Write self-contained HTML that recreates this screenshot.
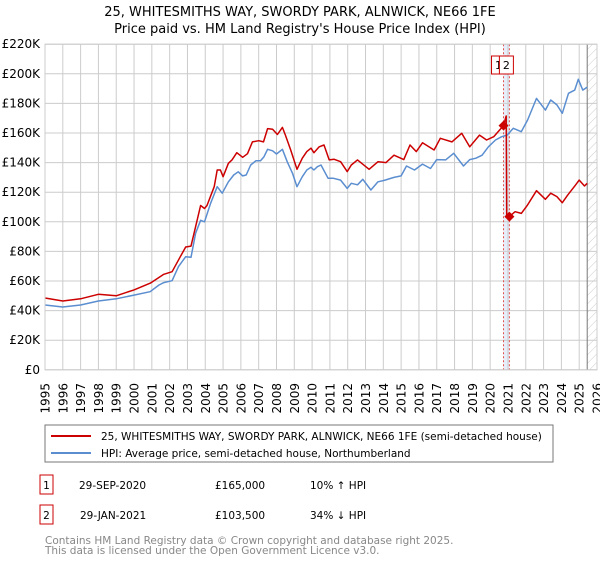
<!DOCTYPE html>
<html><head><meta charset="utf-8"><style>
body{margin:0;background:#fff;font-family:"Liberation Sans","DejaVu Sans",sans-serif;}
svg text{font-family:"DejaVu Sans","Liberation Sans",sans-serif;}
</style></head><body>
<svg id="c" width="600" height="560" xmlns="http://www.w3.org/2000/svg">
<defs><pattern id="hatch" width="6" height="6" patternUnits="userSpaceOnUse" patternTransform="rotate(45)"><line x1="0" y1="0" x2="0" y2="6" stroke="#ccc" stroke-width="1"/></pattern></defs>
<text x="300" y="16" text-anchor="middle" font-size="13">25, WHITESMITHS WAY, SWORDY PARK, ALNWICK, NE66 1FE</text>
<text x="300" y="33" text-anchor="middle" font-size="13">Price paid vs. HM Land Registry's House Price Index (HPI)</text>
<g id="plot"></g>
<rect x="45" y="425" width="508" height="37" fill="#fff" stroke="#777"/>
<line x1="51" y1="436" x2="91" y2="436" stroke="#cc0000" stroke-width="2"/>
<text x="101" y="440" font-size="10.5">25, WHITESMITHS WAY, SWORDY PARK, ALNWICK, NE66 1FE (semi-detached house)</text>
<line x1="51" y1="453" x2="91" y2="453" stroke="#5b8ed0" stroke-width="2"/>
<text x="101" y="457" font-size="10.5">HPI: Average price, semi-detached house, Northumberland</text>
<rect x="40" y="475" width="13" height="19" fill="#fff" stroke="#cc0000"/>
<text x="46.5" y="489" text-anchor="middle" font-size="10.5">1</text>
<text x="79" y="489" font-size="10.5">29-SEP-2020</text>
<text x="215" y="489" font-size="10.5">£165,000</text>
<text x="310" y="489" font-size="10.5">10% ↑ HPI</text>
<rect x="40" y="505" width="13" height="19" fill="#fff" stroke="#cc0000"/>
<text x="46.5" y="519" text-anchor="middle" font-size="10.5">2</text>
<text x="80" y="519" font-size="10.5">29-JAN-2021</text>
<text x="215" y="519" font-size="10.5">£103,500</text>
<text x="310" y="519" font-size="10.5">34% ↓ HPI</text>
<text x="45" y="544" font-size="10.5" fill="#888">Contains HM Land Registry data © Crown copyright and database right 2025.</text>
<text x="45" y="554" font-size="10.5" fill="#888">This data is licensed under the Open Government Licence v3.0.</text>
</svg>
<script>
const yTicks=[0,20,40,60,80,100,120,140,160,180,200,220];
const xYears=[1995,1996,1997,1998,1999,2000,2001,2002,2003,2004,2005,2006,2007,2008,2009,2010,2011,2012,2013,2014,2015,2016,2017,2018,2019,2020,2021,2022,2023,2024,2025,2026];
const hpiYears=[1995,1996,1997,1998,1999,2000,2000.9,2001.4,2001.67,2002.14,2002.5,2002.9,2003.2,2003.46,2003.74,2003.96,2004.3,2004.67,2004.95,2005.3,2005.6,2005.85,2006.1,2006.3,2006.55,2006.85,2007.1,2007.3,2007.5,2007.78,2008.0,2008.33,2008.6,2008.9,2009.15,2009.45,2009.7,2009.94,2010.1,2010.3,2010.5,2010.9,2011.2,2011.6,2011.97,2012.2,2012.55,2012.85,2013.3,2013.7,2014.05,2014.6,2015.0,2015.3,2015.75,2016.2,2016.65,2017.0,2017.5,2017.95,2018.5,2018.85,2019.2,2019.55,2019.9,2020.3,2020.65,2020.95,2021.3,2021.75,2022.1,2022.6,2023.1,2023.4,2023.75,2024.05,2024.4,2024.75,2024.95,2025.2,2025.45];
const hpiValues=[43.8,42.4,43.8,46.5,48,50.5,52.8,57.3,58.9,60.2,69.7,76.4,76,92.2,101,100,112.5,123.7,119.3,127,131.6,133.8,131,131.6,138.4,141.3,141.3,144,149,148,145.8,149,140.6,132.8,123.7,130.5,135,136.8,135,137.2,138.4,129.4,129.4,128.2,122.6,126,125,128.7,121.5,127,128,130,131,137.7,135,139,136,142,141.8,146.3,137.7,142,143,145,150.7,155.3,157.5,158.6,163.2,160.9,168.8,183.4,175.5,182.3,179,173.3,186.8,189,196.3,189,191];
const paidYears=[1995,1996,1997,1998,1999,2000,2000.92,2001.67,2002.14,2002.6,2002.9,2003.2,2003.46,2003.74,2003.96,2004.1,2004.5,2004.67,2004.85,2005.0,2005.3,2005.5,2005.77,2006.1,2006.37,2006.65,2007.0,2007.27,2007.5,2007.78,2008.05,2008.33,2008.5,2008.8,2009.15,2009.45,2009.7,2009.94,2010.1,2010.4,2010.67,2010.96,2011.24,2011.6,2011.97,2012.2,2012.55,2013.2,2013.7,2014.15,2014.6,2015.15,2015.5,2015.85,2016.2,2016.85,2017.2,2017.85,2018.4,2018.85,2019.4,2019.8,2020.2,2020.75,2020.9,2020.93,2021.08,2021.4,2021.75,2022.1,2022.6,2023.1,2023.4,2023.75,2024.05,2024.35,2024.8,2025.0,2025.3,2025.45];
const paidValues=[48.5,46.5,48,51,50,54,58.6,64.5,66.3,76.4,83,83.6,96.7,111,109,111,123.7,135,135,130.5,139.5,141.8,146.7,143.6,146,154,154.8,154,163,162.5,159,163.8,158.6,148.5,135.5,143,147.4,149.7,146.7,150.7,151.9,141.8,142.2,140.6,133.9,138.4,141.8,135.5,140.6,140,145,142,151.9,147.4,153.4,148.5,156.4,154,159.8,150.7,158.6,155.3,157.5,165,171.5,103.5,103.5,106.8,105.7,111.4,121,115.2,119.3,117,112.9,118,124.9,128.2,124.2,126];
const saleYears=[2020.75,2021.08];
const saleValues=[165,103.5];

const NS='http://www.w3.org/2000/svg';
const X0=45,X1=597,Y0=369.8,Y1=44.2;
function sx(y){return X0+(y-1995)/(2026-1995)*(X1-X0);}
function sy(v){return Y0-(v/220)*(Y0-Y1);}
const plot=document.getElementById('plot');
function mk(tag,attrs){const e=document.createElementNS(NS,tag);for(const k in attrs)e.setAttribute(k,attrs[k]);plot.appendChild(e);return e;}
let band=mk('rect',{x:sx(saleYears[0]),y:Y1,width:sx(saleYears[1])-sx(saleYears[0]),height:Y0-Y1,fill:'#e6eefa'});


let hz=mk('rect',{x:sx(2025.45),y:Y1,width:X1-sx(2025.45),height:Y0-Y1,fill:'url(#hatch)'});


yTicks.forEach(t=>{
 let l=mk('line',{x1:X0,x2:X1,y1:sy(t),y2:sy(t),stroke:'#ccc','stroke-width':1});
 
 
 let tx=mk('text',{x:X0-5,y:sy(t)+4,'text-anchor':'end','font-size':12});
 tx.textContent='£'+t+(t?'K':'');
 
 
});
xYears.forEach(yr=>{
 let l=mk('line',{x1:sx(yr),x2:sx(yr),y1:Y1,y2:Y0,stroke:'#ccc','stroke-width':1});
 
 
 let x=sx(yr)+4.5,y=383;
 let tx=mk('text',{x:x,y:y,'text-anchor':'end','font-size':12,transform:`rotate(-90 ${x} ${y})`});
 tx.textContent=yr;
 
 
});
let fl=mk('line',{x1:sx(2025.45),x2:sx(2025.45),y1:Y1,y2:Y0,stroke:'#777','stroke-width':1});


saleYears.forEach((yr,i)=>{
 let d=mk('line',{x1:sx(yr),x2:sx(yr),y1:Y1,y2:Y0,stroke:'#e05050','stroke-width':1,'stroke-dasharray':'2,2'});
 
 
});
function path(xs,vs,col,name){
 let d=xs.map((x,i)=>(i?'L':'M')+sx(x).toFixed(1)+','+sy(vs[i]).toFixed(1)).join('');
 let p=mk('path',{d:d,fill:'none',stroke:col,'stroke-width':1.5,'stroke-linejoin':'round'});
 
 
}
path(hpiYears,hpiValues,'#5b8ed0','hpi-line');
path(paidYears,paidValues,'#cc0000','property-line');
saleYears.forEach((yr,i)=>{
 let c=mk('path',{d:`M${sx(yr)},${sy(saleValues[i])-5}l5,5l-5,5l-5,-5z`,fill:'#cc0000'});
 
 
});
[[sx(saleYears[0])-12,'1'],[sx(saleYears[1])-10,'2']].forEach((b,i)=>{
 let r=mk('rect',{x:b[0],y:56,width:14,height:18,fill:'#fff',stroke:'#cc0000'});
 
 
 let t=mk('text',{x:b[0]+7,y:69,'text-anchor':'middle','font-size':11});
 t.textContent=b[1];
 
 
});
let fr=mk('rect',{x:X0,y:Y1,width:X1-X0,height:Y0-Y1,fill:'none',stroke:'#ccc'});


</script>
</body></html>
